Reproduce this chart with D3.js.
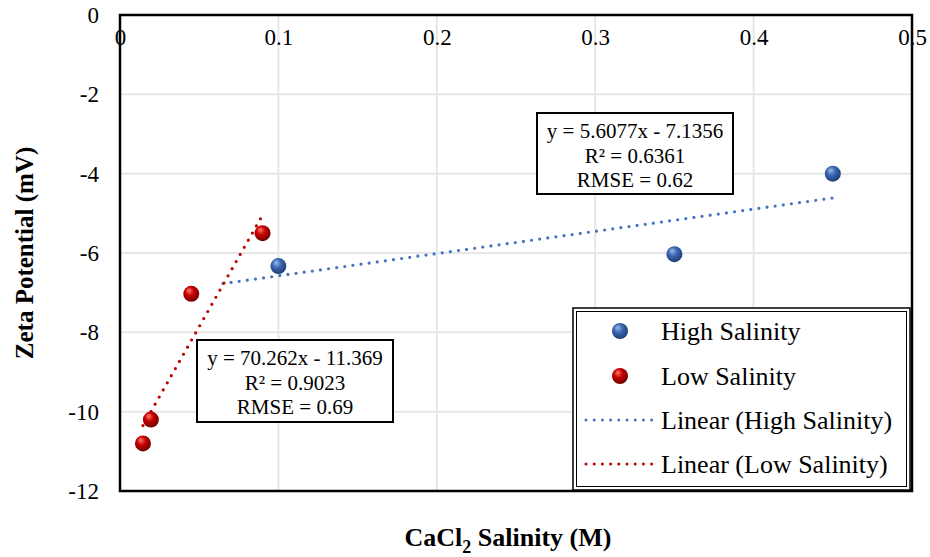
<!DOCTYPE html>
<html>
<head>
<meta charset="utf-8">
<script src="https://cdn.jsdelivr.net/npm/d3@7"></script>
<style>
  body { margin: 0; background: #fff; }
  svg { display: block; }
  svg text { font-family: "Liberation Serif", "Times New Roman", serif; }
</style>
</head>
<body>
<svg id="chart"></svg>
<script>
// data
const highX = [0.1, 0.35, 0.45];
const highY = [-6.33, -6.03, -4.0];
const lowX = [0.0145, 0.0195, 0.045, 0.09];
const lowY = [-10.8, -10.2, -7.03, -5.5];

// trendline coefficients [slope, intercept] and x-extent
const highFit = [5.6077, -7.1356];
const highFitRange = [0.065, 0.45];
const lowFit = [70.262, -11.369];
const lowFitRange = [0.0145, 0.09];

const highLabel = ['y = 5.6077x - 7.1356', 'R² = 0.6361', 'RMSE = 0.62'];
const lowLabel = ['y = 70.262x - 11.369', 'R² = 0.9023', 'RMSE = 0.69'];

const xTicks = [0, 0.1, 0.2, 0.3, 0.4, 0.5];
const yTicks = [0, -2, -4, -6, -8, -10, -12];
const seriesNames = ['High Salinity', 'Low Salinity', 'Linear (High Salinity)', 'Linear (Low Salinity)'];

const width = 930;
const height = 557;
const marginTop = 15;
const marginRight = 18;
const marginBottom = 66;
const marginLeft = 120;

const blue = '#4472c4';
const red = '#c00000';

const svg = d3.select('#chart')
  .attr('width', width)
  .attr('height', height)
  .attr('viewBox', [0, 0, width, height]);

const x = d3.scaleLinear().domain([0, 0.5]).range([marginLeft, width - marginRight]);
const y = d3.scaleLinear().domain([-12, 0]).range([height - marginBottom, marginTop]);

// sphere gradients
const defs = svg.append('defs');
function sphere(id, light, mid, dark) {
  const g = defs.append('radialGradient').attr('id', id)
    .attr('cx', '45%').attr('cy', '40%').attr('r', '60%').attr('fx', '35%').attr('fy', '28%');
  g.append('stop').attr('offset', '0%').attr('stop-color', light);
  g.append('stop').attr('offset', '45%').attr('stop-color', mid);
  g.append('stop').attr('offset', '100%').attr('stop-color', dark);
}
sphere('gBlue', '#9dbbeb', '#3d68b4', '#1d3c73');
sphere('gRed', '#ff7a6e', '#c80000', '#6d0000');

// gridlines
svg.append('g')
  .attr('stroke', '#e6e6e6').attr('stroke-width', 2)
  .call(g => g.selectAll('.v').data(xTicks.slice(1, -1)).join('line')
    .attr('x1', d => x(d)).attr('x2', d => x(d))
    .attr('y1', y(0)).attr('y2', y(-12)))
  .call(g => g.selectAll('.h').data(yTicks.slice(1, -1)).join('line')
    .attr('x1', x(0)).attr('x2', x(0.5))
    .attr('y1', d => y(d)).attr('y2', d => y(d)));

// trendlines
const fits = [
  { fit: highFit, range: highFitRange, color: blue },
  { fit: lowFit, range: lowFitRange, color: red }
];
svg.append('g')
  .selectAll('line')
  .data(fits)
  .join('line')
  .attr('x1', d => x(d.range[0]))
  .attr('y1', d => y(d.fit[0] * d.range[0] + d.fit[1]))
  .attr('x2', d => x(d.range[1]))
  .attr('y2', d => y(d.fit[0] * d.range[1] + d.fit[1]))
  .attr('stroke', d => d.color)
  .attr('stroke-width', 3.2)
  .attr('stroke-linecap', 'round')
  .attr('stroke-dasharray', '0 8.2');

// points
svg.append('g')
  .selectAll('circle')
  .data(highX.map((v, i) => [v, highY[i]]))
  .join('circle')
  .attr('cx', d => x(d[0])).attr('cy', d => y(d[1])).attr('r', 8)
  .attr('fill', 'url(#gBlue)');
svg.append('g')
  .selectAll('circle')
  .data(lowX.map((v, i) => [v, lowY[i]]))
  .join('circle')
  .attr('cx', d => x(d[0])).attr('cy', d => y(d[1])).attr('r', 8)
  .attr('fill', 'url(#gRed)');

// frame
svg.append('rect')
  .attr('x', x(0)).attr('y', y(0))
  .attr('width', x(0.5) - x(0)).attr('height', y(-12) - y(0))
  .attr('fill', 'none').attr('stroke', '#000').attr('stroke-width', 2.5);

// x axis labels (on top, below the zero line)
svg.append('g')
  .attr('transform', `translate(0,${y(0)})`)
  .call(d3.axisBottom(x).tickValues(xTicks).tickFormat(d => String(d)).tickSize(0).tickPadding(14))
  .call(g => g.select('.domain').remove())
  .call(g => g.selectAll('text').attr('fill', '#000').style('font-size', '23px'));

// y axis labels
svg.append('g')
  .attr('transform', `translate(${x(0)},0)`)
  .call(d3.axisLeft(y).tickValues(yTicks).tickFormat(d => String(d)).tickSize(0).tickPadding(21))
  .call(g => g.select('.domain').remove())
  .call(g => g.selectAll('text').attr('fill', '#000').style('font-size', '23px'));

// axis titles
svg.append('text')
  .attr('transform', `translate(33,${(y(0) + y(-12)) / 2}) rotate(-90)`)
  .attr('text-anchor', 'middle')
  .attr('font-size', 25).attr('font-weight', 'bold')
  .text('Zeta Potential (mV)');

const xt = svg.append('text')
  .attr('x', 508).attr('y', 546)
  .attr('text-anchor', 'middle')
  .attr('font-size', 26).attr('font-weight', 'bold');
xt.append('tspan').text('CaCl');
xt.append('tspan').attr('font-size', 18).attr('dy', 7).text('2');
xt.append('tspan').attr('dy', -7).text(' Salinity (M)');

// equation boxes
function eqBox(lines, x0, y0, w, h) {
  const g = svg.append('g');
  g.append('rect').attr('x', x0).attr('y', y0).attr('width', w).attr('height', h)
    .attr('fill', '#fff').attr('stroke', '#000').attr('stroke-width', 2);
  g.selectAll('text').data(lines).join('text')
    .attr('x', x0 + w / 2).attr('y', (d, i) => y0 + 25 + i * 24.5)
    .attr('text-anchor', 'middle').attr('font-size', 21)
    .text(d => d);
}
eqBox(highLabel, 537, 113, 196, 81);
eqBox(lowLabel, 197, 340, 196, 82);

// legend
const lg = svg.append('g');
lg.append('rect').attr('x', 573).attr('y', 308).attr('width', 337).attr('height', 182)
  .attr('fill', '#fff').attr('stroke', '#000').attr('stroke-width', 1.5);
lg.append('rect').attr('x', 576.5).attr('y', 311.5).attr('width', 330).attr('height', 175)
  .attr('fill', 'none').attr('stroke', '#000').attr('stroke-width', 1);
const rowY = [331, 376, 420, 464];
lg.selectAll('text').data(seriesNames).join('text')
  .attr('x', 661).attr('y', (d, i) => rowY[i] + 9)
  .attr('font-size', 26).text(d => d);
lg.append('circle').attr('cx', 620).attr('cy', rowY[0]).attr('r', 8).attr('fill', 'url(#gBlue)');
lg.append('circle').attr('cx', 620).attr('cy', rowY[1]).attr('r', 8).attr('fill', 'url(#gRed)');
lg.selectAll('line').data([blue, red]).join('line')
  .attr('x1', 586).attr('x2', 654)
  .attr('y1', (d, i) => rowY[i + 2]).attr('y2', (d, i) => rowY[i + 2])
  .attr('stroke', d => d).attr('stroke-width', 3)
  .attr('stroke-linecap', 'round').attr('stroke-dasharray', '0 8.2');
</script>
</body>
</html>
